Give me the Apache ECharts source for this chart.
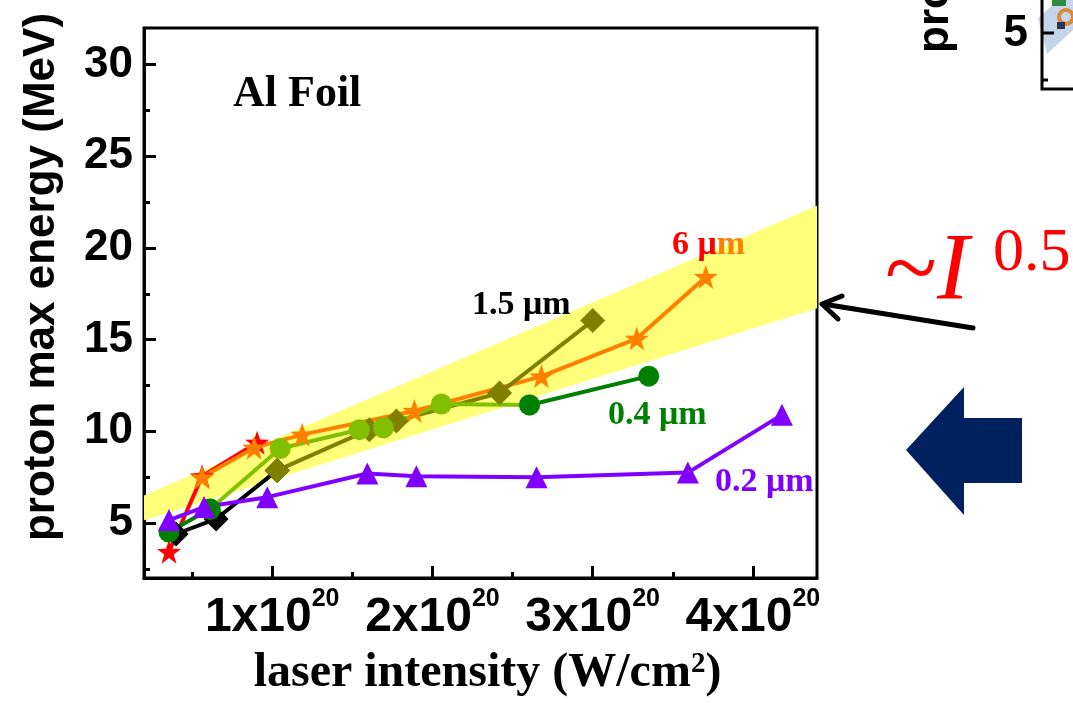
<!DOCTYPE html>
<html><head><meta charset="utf-8">
<script src="https://cdn.jsdelivr.net/npm/echarts@6/dist/echarts.min.js"></script>
<style>html,body{margin:0;padding:0;background:#fff}#c{width:1073px;height:703px}</style>
</head><body><div id="c"></div>
<script>
// x values in units of 1e20 W/cm^2, y in MeV
const xTicks = [1, 2, 3, 4];
const xMinorTicks = [0.5, 1.5, 2.5, 3.5];
const yTicks = [5, 10, 15, 20, 25, 30];
const yMinorTicks = [2.5, 7.5, 12.5, 17.5, 22.5, 27.5];

// 0.2 um (purple triangles)
const x02 = [0.356, 0.575, 0.969, 1.594, 1.900, 2.650, 3.594, 4.181];
const y02 = [5.16, 5.87, 6.41, 7.70, 7.55, 7.50, 7.75, 10.90];
// 0.4 um dark green circles (gap between groups)
const x04a = [0.356, 0.613, null, 2.606, 3.350];
const y04a = [4.51, 5.76, null, 11.44, 13.01];
// 0.4 um light green circles
const x04b = [0.613, 1.050, 1.544, 1.694, 2.056, 2.606];
const y04b = [5.76, 9.06, 10.09, 10.19, 11.49, 11.44];
// 1.5 um black diamonds
const x15a = [0.400, 0.650, 1.031];
const y15a = [4.40, 5.22, 7.87];
// 1.5 um olive diamonds
const x15b = [1.031, 1.606, 1.775, 2.419, 3.000];
const y15b = [7.87, 10.09, 10.57, 12.09, 16.04];
// 6 um red stars
const x6a = [0.356, 0.5625, 0.906];
const y6a = [3.43, 7.55, 9.38];
// 6 um orange stars
const x6b = [0.5625, 0.8875, 1.1875, 1.8875, 2.680, 3.275, 3.706];
const y6b = [7.49, 9.11, 9.82, 11.11, 13.00, 15.06, 18.42];
// ~I^0.5 band
const bandX = [0.2, 4.4];
const bandLow = [5.15, 16.72];
const bandHigh = [6.50, 22.30];

const SANS = 'Liberation Sans';
const SERIF = 'Liberation Serif';
const STAR = 'path://M50,2 L62,36 L98,37 L69,58 L80,94 L50,72 L20,94 L31,58 L2,37 L38,36 Z';

function pts(xs, ys) { return xs.map((x, i) => (x === null ? [null, null] : [x, ys[i]])); }
function ser(name, xs, ys, color, symbol, size) {
  return {
    name, type: 'line', data: pts(xs, ys), connectNulls: false,
    symbol, symbolSize: size, showAllSymbol: true,
    lineStyle: { color, width: 4 }, itemStyle: { color, borderWidth: 0 },
    emphasis: { disabled: true }, z: 3
  };
}

const chart = echarts.init(document.getElementById('c'), null, { renderer: 'canvas' });
const option = {
  animation: false,
  backgroundColor: '#fff',
  grid: { left: 144, right: 256, top: 28, bottom: 123, show: true, borderColor: '#000', borderWidth: 3, containLabel: false },
  xAxis: [
    {
      type: 'value', min: 0.2, max: 4.4, position: 'bottom',
      axisLine: { show: true, onZero: false, lineStyle: { color: '#000', width: 3 } },
      axisTick: { show: true, inside: true, length: 12, customValues: xTicks, lineStyle: { color: '#000', width: 3 } },
      axisLabel: {
        customValues: xTicks, margin: 9, color: '#000',
        formatter: v => '{a|' + v + 'x10}{b|20}',
        rich: {
          a: { fontFamily: SANS, fontWeight: 'bold', fontSize: 48, lineHeight: 62, color: '#000' },
          b: { fontFamily: SANS, fontWeight: 'bold', fontSize: 25, lineHeight: 20, color: '#000', verticalAlign: 'top' }
        }
      },
      splitLine: { show: false },
      name: '{t|laser intensity (W/cm}{s|2}{t|)}', nameLocation: 'middle', nameGap: 72,
      nameTextStyle: {
        padding: [0, 0, 0, 14],
        rich: {
          t: { fontFamily: SERIF, fontWeight: 'bold', fontSize: 48, color: '#000' },
          s: { fontFamily: SERIF, fontWeight: 'bold', fontSize: 29, color: '#000', verticalAlign: 'top' }
        }
      }
    },
    {
      type: 'value', min: 0.2, max: 4.4, position: 'bottom',
      axisLine: { show: false },
      axisTick: { show: true, inside: true, length: 6, customValues: xMinorTicks, lineStyle: { color: '#000', width: 3 } },
      axisLabel: { show: false }, splitLine: { show: false }
    }
  ],
  yAxis: [
    {
      type: 'value', min: 2, max: 32, position: 'left',
      axisLine: { show: true, onZero: false, lineStyle: { color: '#000', width: 3 } },
      axisTick: { show: true, inside: true, length: 12, customValues: yTicks, lineStyle: { color: '#000', width: 3 } },
      axisLabel: { customValues: yTicks, margin: 11, color: '#000', fontFamily: SANS, fontWeight: 'bold', fontSize: 44 },
      splitLine: { show: false },
      name: 'proton max energy (MeV)', nameLocation: 'middle', nameGap: 80,
      nameTextStyle: { fontFamily: SANS, fontWeight: 'bold', fontSize: 44, color: '#000', padding: [0, 0, 0, 52] }
    },
    {
      type: 'value', min: 2, max: 32, position: 'left',
      axisLine: { show: false },
      axisTick: { show: true, inside: true, length: 6, customValues: yMinorTicks, lineStyle: { color: '#000', width: 3 } },
      axisLabel: { show: false }, splitLine: { show: false }
    }
  ],
  series: [
    {
      type: 'custom', name: 'band', silent: true, z: 1,
      data: bandX.map((x, i) => [x, bandLow[i], bandHigh[i]]),
      encode: { x: 0, y: [1, 2] },
      renderItem: (params, api) => {
        if (params.dataIndex !== 0) return null;
        const p = [];
        for (let i = 0; i < bandX.length; i++) p.push(api.coord([bandX[i], bandHigh[i]]));
        for (let i = bandX.length - 1; i >= 0; i--) p.push(api.coord([bandX[i], bandLow[i]]));
        return { type: 'polygon', shape: { points: p }, style: { fill: '#FFFF7A' } };
      }
    },
    ser('6 um (red)', x6a, y6a, '#FF0000', STAR, 24),
    ser('6 um', x6b, y6b, '#FF8000', STAR, 24),
    ser('1.5 um (black)', x15a, y15a, '#000000', 'diamond', 25),
    ser('1.5 um', x15b, y15b, '#808000', 'diamond', 25),
    ser('0.4 um (light)', x04b, y04b, '#80C000', 'circle', 21),
    ser('0.4 um', x04a, y04a, '#008000', 'circle', 21),
    ser('0.2 um', x02, y02, '#8000FF', 'triangle', 22)
  ],
  graphic: [
    { type: 'text', x: 233, y: 95, z: 10, style: { text: 'Al Foil', font: 'bold 44px "Liberation Serif"', fill: '#000', textAlign: 'left', textVerticalAlign: 'middle' } },
    { type: 'text', x: 472, y: 305, z: 10, style: { text: '1.5 μm', font: 'bold 34px "Liberation Serif"', fill: '#000', textAlign: 'left', textVerticalAlign: 'middle' } },
    { type: 'text', x: 672, y: 245, z: 10, style: { text: '{r|6 μ}{o|m}', textAlign: 'left', textVerticalAlign: 'middle',
        rich: { r: { font: 'bold 34px "Liberation Serif"', fill: '#FF0000' }, o: { font: 'bold 34px "Liberation Serif"', fill: '#FF8000' } } } },
    { type: 'text', x: 608, y: 415, z: 10, style: { text: '0.4 μm', font: 'bold 34px "Liberation Serif"', fill: '#008000', textAlign: 'left', textVerticalAlign: 'middle' } },
    { type: 'text', x: 715, y: 482, z: 10, style: { text: '0.2 μm', font: 'bold 34px "Liberation Serif"', fill: '#8000FF', textAlign: 'left', textVerticalAlign: 'middle' } },
    // ~I^0.5 annotation
    { type: 'text', x: 885, y: 274, z: 10, style: { text: '{n|~}{i|I}', textAlign: 'left', textVerticalAlign: 'middle',
        rich: { n: { font: '96px "Liberation Serif"', fill: '#FF0000' }, i: { font: 'italic 96px "Liberation Serif"', fill: '#FF0000' } } } },
    { type: 'text', x: 993, y: 254, z: 10, style: { text: '0.5', font: '62px "Liberation Serif"', fill: '#FF0000', textAlign: 'left', textVerticalAlign: 'middle' } },
    { type: 'polyline', z: 10, shape: { points: [[973, 328], [823, 304]] }, style: { stroke: '#000', lineWidth: 5, lineCap: 'round' } },
    { type: 'polyline', z: 10, shape: { points: [[842, 296], [822, 304], [838, 319]] }, style: { stroke: '#000', lineWidth: 5, lineCap: 'round', lineJoin: 'round', fill: null } },
    // block arrow
    { type: 'polygon', z: 10, shape: { points: [[906, 450], [964, 387], [964, 418], [1022, 418], [1022, 483], [964, 483], [964, 515]] }, style: { fill: '#002060' } },
    // fragment of neighbouring panel (top right)
    { type: 'polygon', z: 9, shape: { points: [[1038, 18], [1058, 0], [1073, 0], [1073, 30], [1047, 54]] }, style: { fill: '#C5D6EA' } },
    { type: 'circle', z: 10, shape: { cx: 1066, cy: 17, r: 7 }, style: { fill: '#C5D6EA', stroke: '#D9893A', lineWidth: 4 } },
    { type: 'rect', z: 10, shape: { x: 1052, y: 0, width: 14, height: 6 }, style: { fill: '#2E8B3E' } },
    { type: 'rect', z: 10, shape: { x: 1057, y: 22, width: 8, height: 7 }, style: { fill: '#333355' } },
    { type: 'polyline', z: 10, shape: { points: [[1042, -2], [1042, 89], [1075, 89]] }, style: { stroke: '#000', lineWidth: 3, fill: null } },
    { type: 'line', z: 10, shape: { x1: 1042, y1: 33, x2: 1054, y2: 33 }, style: { stroke: '#000', lineWidth: 3 } },
    { type: 'line', z: 10, shape: { x1: 1042, y1: 80, x2: 1048, y2: 80 }, style: { stroke: '#000', lineWidth: 3 } },
    { type: 'text', x: 1028, y: 34, z: 10, style: { text: '5', font: 'bold 44px "Liberation Sans"', fill: '#000', textAlign: 'right', textVerticalAlign: 'middle' } },
    { type: 'text', x: 936, y: 53, rotation: Math.PI / 2, z: 10, style: { text: 'proton max energy (MeV)', font: 'bold 44px "Liberation Sans"', fill: '#000', textAlign: 'left', textVerticalAlign: 'middle' } }
  ]
};
chart.setOption(option);
</script></body></html>
